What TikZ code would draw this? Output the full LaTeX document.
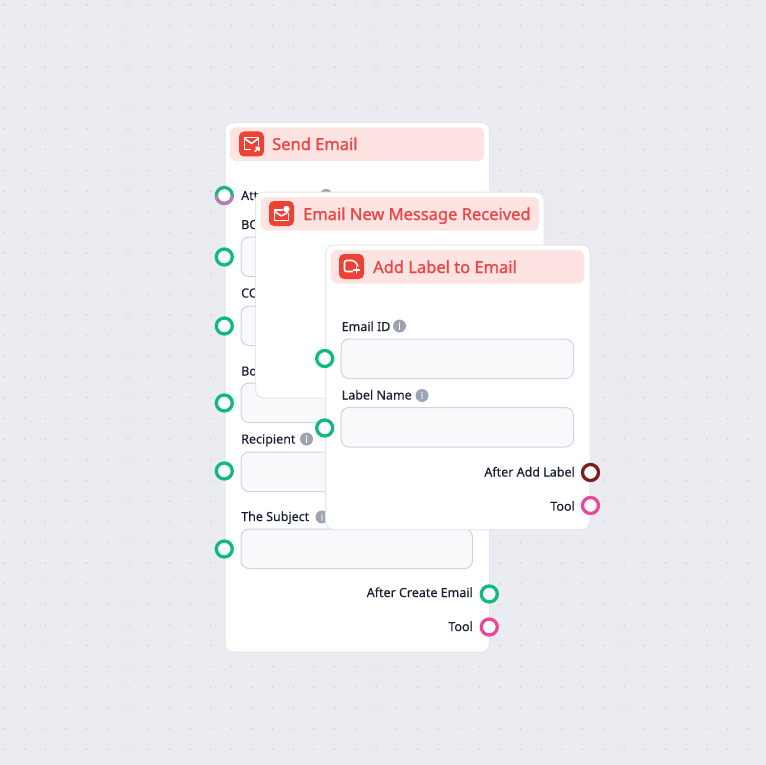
\documentclass[tikz,border=0pt]{standalone}
\usepackage{fontspec}
\setmainfont{Noto Sans}[FakeBold=0.25]
\newfontfamily\titlefont{Noto Sans}[FakeBold=1.1]
\definecolor{canvas}{HTML}{EBECF1}
\definecolor{griddot}{HTML}{D6D7DD}
\definecolor{cardline}{HTML}{E4E6EC}
\definecolor{headfill}{HTML}{FDE3E2}
\definecolor{headtext}{HTML}{EF4444}
\definecolor{iconfill}{HTML}{EE4136}
\definecolor{fieldfill}{HTML}{F8F9FB}
\definecolor{fieldline}{HTML}{CFD4DC}
\definecolor{labeltext}{HTML}{1A2033}
\definecolor{infofill}{HTML}{9CA3B3}
\definecolor{portgreen}{HTML}{10B981}
\definecolor{portpink}{HTML}{EC4899}
\definecolor{portdark}{HTML}{7F1D1D}
\definecolor{portpurple}{HTML}{B57CB8}
\tikzset{
    card/.style={draw=cardline, fill=white, line width=1pt, rounded corners=8pt, anchor=north west, inner sep=0pt, outer sep=0pt, minimum width=#1},
    head/.style={fill=headfill, rounded corners=6pt, anchor=north west, inner sep=0pt, outer sep=0pt, minimum height=33.5pt, minimum width=#1},
    iconbox/.style={fill=iconfill, rounded corners=5pt, inner sep=0pt, minimum size=25pt},
    headlabel/.style={anchor=west, inner sep=0pt, text=headtext, text height=12pt, text depth=0pt, font=\titlefont\fontsize{16.5}{18}\selectfont},
    field/.style={draw=fieldline, fill=fieldfill, line width=1pt, rounded corners=8pt, anchor=north west, inner sep=0pt, outer sep=0pt, minimum height=39.5pt, minimum width=#1},
    fieldlabel/.style={inner sep=0pt, text=labeltext, text height=9pt, text depth=0pt, font=\fontsize{12.5}{14}\selectfont},
    info/.style={circle, fill=infofill, inner sep=0pt, minimum size=13pt, text=white, font=\bfseries\fontsize{9.5}{9.5}\selectfont},
    port/.style={circle, draw=#1, fill=white, line width=3.3pt, inner sep=0pt, outer sep=0pt, minimum size=16pt},
    glyph/.style={draw=white, line width=1.6pt, line join=round, line cap=round},
}
\begin{document}
\begin{tikzpicture}[x=1pt,y=-1pt]
    \useasboundingbox (0,0) rectangle (766,765);
    \fill[canvas] (0,0) rectangle (766,765);
    \foreach \i in {0,...,36}
        \foreach \j in {0,...,36}
            \fill[griddot] ({4+20.67*\i},{5+20.67*\j}) circle (1.1pt);

    % send email
    \node[card=264.5pt, minimum height=529.5pt] (sendCard) at (225,122.5) {};
    \node[head=254pt] (sendHead) at (230,127.5) {};
    \node[iconbox] (sendIcon) at (251.5,144) {};
    \node[headlabel] (sendTitle) at (272,144) {Send Email};
    \begin{scope}[shift={(sendIcon.center)}]
        \draw[glyph] (-1,5.5) -- (-7,5.5) -- (-7,-6.5) -- (7,-6.5) -- (7,1);
        \draw[glyph] (-7,-5.5) -- (0,-0.5) -- (7,-5.5);
        \draw[glyph] (3.5,7.5) -- (7.5,3.5) (4.5,3.5) -- (7.5,3.5) -- (7.5,6.5);
    \end{scope}
    \node[fieldlabel, anchor=west] (attachLabel) at (241,195.5) {Att};
    \node[info] (attachInfo) at (326,195.5) {i};
    \foreach \name/\txt/\ytxt/\ybox in {bcc/BC/224.5/237, cc/CC/293/306, body/Bo/371/383, recipient/Recipient/439/452, subject/The Subject/516.5/529} {
        \node[fieldlabel, anchor=west] (\name Label) at (241,\ytxt) {\txt};
        \node[field=231.5pt] (\name Field) at (241,\ybox) {};
    }
    \node[info] (recipientInfo) at (306.5,439) {i};
    \node[info] (subjectInfo) at (322,517) {i};
    \node[fieldlabel, anchor=east] (sendAfterLabel) at (473,592.5) {After Create Email};
    \node[fieldlabel, anchor=east] (sendToolLabel) at (473,626.5) {Tool};
    \foreach \name/\y in {attach/195.5, bcc/257, cc/326, body/403, recipient/471, subject/549}
        \node[port=portgreen] (\name Port) at (224.3,\y) {};
    \draw[portpurple, line width=3.3pt] ([xshift=-8pt]attachPort.center) arc[start angle=180, end angle=360, radius=8pt];
    \node[port=portgreen] (sendAfterPort) at (489.3,594) {};
    \node[port=portpink] (sendToolPort) at (489.3,627) {};

    % email new message received
    \node[card=288.5pt, minimum height=206pt] (newCard) at (255.5,192) {};
    \node[head=278pt] (newHead) at (261,197) {};
    \node[iconbox] (newIcon) at (281.5,213.5) {};
    \node[headlabel] (newTitle) at (303,214) {Email New Message Received};
    \begin{scope}[shift={(newIcon.center)}]
        \draw[glyph] (1,-3.5) -- (-7,-3.5) -- (-7,7) -- (7,7) -- (7,0);
        \draw[glyph] (-7,-2) -- (0,2.5) -- (6,-1);
        \fill[white] (5,-4.5) circle (3.2pt);
    \end{scope}

    % add label to email
    \node[card=264.5pt, minimum height=284.5pt] (labelCard) at (325.5,245) {};
    \node[head=253pt] (labelHead) at (331,250) {};
    \node[iconbox] (labelIcon) at (351.5,266.5) {};
    \node[headlabel] (labelTitle) at (373,267) {Add Label to Email};
    \begin{scope}[shift={(labelIcon.center)}]
        \draw[glyph, rounded corners=2pt] (1,5) -- (-7,5) -- (-7,-6) -- (3,-6) -- (6.5,-0.5);
        \draw[glyph] (5,0.5) -- (5,6.5) (2,3.5) -- (8,3.5);
    \end{scope}
    \node[fieldlabel, anchor=west] (emailLabel) at (341.5,326.5) {Email ID};
    \node[info] (emailInfo) at (399.5,326) {i};
    \node[field=232.5pt] (emailField) at (341,339) {};
    \node[fieldlabel, anchor=west] (nameLabel) at (341.5,395) {Label Name};
    \node[info] (nameInfo) at (422,395.5) {i};
    \node[field=232.5pt] (nameField) at (341,407.5) {};
    \node[fieldlabel, anchor=east] (labelAfterLabel) at (575,472) {After Add Label};
    \node[fieldlabel, anchor=east] (labelToolLabel) at (575,506.2) {Tool};
    \node[port=portgreen] (emailPort) at (324.7,358.5) {};
    \node[port=portgreen] (namePort) at (324.7,428) {};
    \node[port=portdark] (labelAfterPort) at (590.5,472.5) {};
    \node[port=portpink] (labelToolPort) at (590.5,505.5) {};
\end{tikzpicture}
\end{document}
